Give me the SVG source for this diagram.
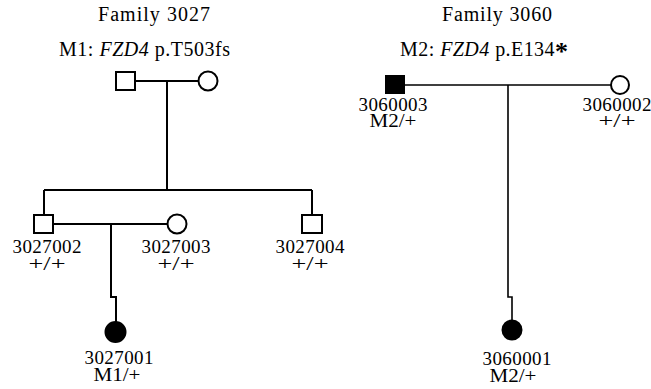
<svg xmlns="http://www.w3.org/2000/svg" width="651" height="389" viewBox="0 0 651 389">
<style>
text{font-family:"Liberation Serif","DejaVu Serif",serif;font-size:19px;fill:#000;text-anchor:middle}
.t{font-size:20px}
.i{font-style:italic}
.ln{fill:none;stroke:#000;stroke-width:2}
.ln2{fill:none;stroke:#000;stroke-width:1.6}
.open{fill:#fff;stroke:#000;stroke-width:2}
.fill{fill:#000;stroke:#000;stroke-width:2}
</style>
<rect width="651" height="389" fill="#fff"/>
<g id="titles">
<text class="t" x="154" y="21" textLength="112" lengthAdjust="spacing">Family 3027</text>
<text class="t" x="144.5" y="56" textLength="171" lengthAdjust="spacing">M1: <tspan class="i">FZD4</tspan> p.T503fs</text>
<text class="t" x="497" y="21" textLength="110" lengthAdjust="spacing">Family 3060</text>
<text class="t" x="484" y="56" textLength="168" lengthAdjust="spacing">M2: <tspan class="i">FZD4</tspan> p.E134<tspan font-weight="bold" font-size="26" dy="4">*</tspan></text>
</g>
<g id="connectors">
<path class="ln" d="M135,81 H198 M167,81 V190 M44,190 H312 M44,190 V215 M312,190 V215"/>
<path class="ln" d="M53,224 H167 M111,224 V297 H116 V322"/>
<path class="ln2" d="M404,85 H611 M508,85 V297 H512 V320"/>
</g>
<g id="n3027-father"><rect class="open" x="116" y="72" width="19" height="18"/></g>
<g id="n3027-mother"><circle class="open" cx="208" cy="81" r="9.5"/></g>
<g id="n3027002"><rect class="open" x="34" y="215" width="19" height="18"/>
<text x="47" y="253" textLength="69">3027002</text><text x="47" y="270" textLength="37" lengthAdjust="spacingAndGlyphs">+/+</text></g>
<g id="n3027003"><circle class="open" cx="177" cy="224" r="9.5"/>
<text x="176" y="253" textLength="69">3027003</text><text x="176" y="270" textLength="37" lengthAdjust="spacingAndGlyphs">+/+</text></g>
<g id="n3027004"><rect class="open" x="302" y="215" width="20" height="18"/>
<text x="310" y="253" textLength="69">3027004</text><text x="310" y="270" textLength="37" lengthAdjust="spacingAndGlyphs">+/+</text></g>
<g id="n3027001"><circle class="fill" cx="115.5" cy="332" r="10"/>
<text x="119" y="364" textLength="69">3027001</text><text x="117" y="381" textLength="47" lengthAdjust="spacingAndGlyphs">M1/+</text></g>
<g id="n3060003"><rect class="fill" x="386" y="76" width="18" height="17"/>
<text x="393" y="111" textLength="69">3060003</text><text x="393" y="127" textLength="47" lengthAdjust="spacingAndGlyphs">M2/+</text></g>
<g id="n3060002"><circle class="open" cx="620" cy="85" r="9"/>
<text x="617" y="111" textLength="69">3060002</text><text x="617" y="127" textLength="37" lengthAdjust="spacingAndGlyphs">+/+</text></g>
<g id="n3060001"><circle class="fill" cx="512" cy="330" r="9.5"/>
<text x="517" y="365" textLength="69">3060001</text><text x="513" y="382" textLength="47" lengthAdjust="spacingAndGlyphs">M2/+</text></g>
</svg>
